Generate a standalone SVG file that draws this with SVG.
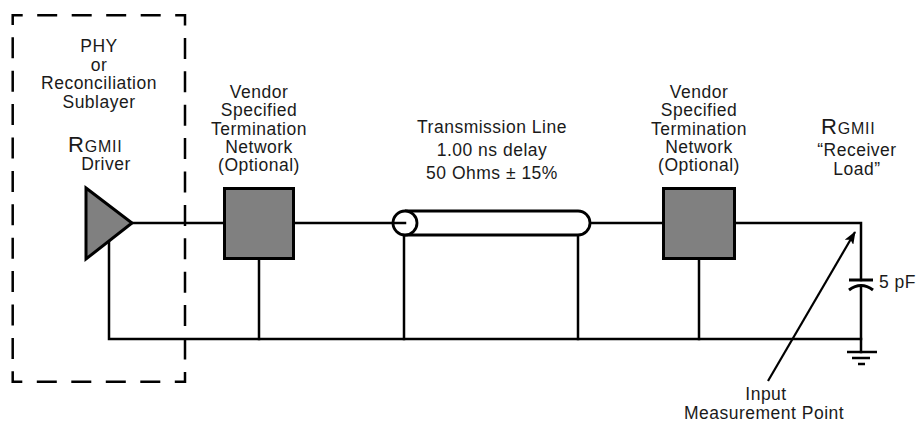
<svg xmlns="http://www.w3.org/2000/svg" width="917" height="422" viewBox="0 0 917 422">
<defs>
<style>
text{font-family:"Liberation Sans",Arial,Helvetica,sans-serif;font-size:17.5px;fill:#1a1a1a;letter-spacing:0.5px}
.c{text-anchor:middle}
.w{fill:none;stroke:#000;stroke-width:2.5;stroke-linecap:square}
.blk{fill:#808080;stroke:#000;stroke-width:3}
</style>
<marker id="ah" viewBox="0 0 13 10" refX="12" refY="5" markerWidth="13" markerHeight="10" markerUnits="userSpaceOnUse" orient="auto">
<path d="M0,0 L13,5 L0,10 L3,5 Z" fill="#000"/>
</marker>
</defs>
<rect width="917" height="422" fill="#fff"/>

<g id="boundary">
<path d="M12.7,15.3 H185 V381.7 H12.7 Z" fill="none" stroke="#000" stroke-width="2.5" stroke-dasharray="10 14.5 20 14.5 20 14.5 20 14.5 20 14.5 20 12.4 21 12.4 21 12.4 21 12.4 21 12.4 21 12.4 21 12.4 21 12.4 21 12.4 21 12.4 21 12.4 20 14.5 20 14.5 20 14.5 20 14.5 20 14.5 20 12.4 21 12.4 21 12.4 21 12.4 21 12.4 21 12.4 21 12.4 21 12.4 21 12.4 21 12.4 21 12.4 10"/>
<text class="c" x="99" y="52">PHY</text>
<text class="c" x="99" y="70.5">or</text>
<text class="c" x="99" y="89">Reconciliation</text>
<text class="c" x="99" y="107.5">Sublayer</text>
</g>

<g id="connectors">
<path class="w" d="M132,223 H224"/>
<path class="w" d="M293,223 H405"/>
<path class="w" d="M590,223 H663"/>
<path class="w" d="M735,223 H861 V280"/>
<path class="w" d="M861,286 V352"/>
<path class="w" d="M109,241 V339 H861"/>
<path class="w" d="M259,259 V339"/>
<path class="w" d="M699,259 V339"/>
<path class="w" d="M404,235 V339"/>
<path class="w" d="M578,235 V339"/>
<line x1="768" y1="381" x2="855" y2="232" stroke="#000" stroke-width="2.2" marker-end="url(#ah)"/>
</g>

<g id="driver">
<path class="blk" d="M86,188 L132,223 L86,259 Z"/>
<text x="68" y="152" style="letter-spacing:0.8px"><tspan style="font-size:22px">R</tspan><tspan style="font-size:16px">GMII</tspan></text>
<text class="c" x="106" y="170">Driver</text>
</g>

<g id="termination1">
<rect class="blk" x="224.5" y="188.5" width="69" height="70"/>
<text class="c" x="259" y="98">Vendor</text>
<text class="c" x="259" y="116.3">Specified</text>
<text class="c" x="259" y="134.6">Termination</text>
<text class="c" x="259" y="152.9">Network</text>
<text class="c" x="259" y="171.2">(Optional)</text>
</g>

<g id="transmission-line">
<path d="M405,211 H578 A12,12 0 0 1 578,235 H405" fill="#fff" stroke="#000" stroke-width="2.8"/>
<circle cx="405" cy="223" r="12" fill="#fff" stroke="#000" stroke-width="2.8"/>
<path class="w" d="M393,223 H405"/>
<text class="c" x="492" y="133">Transmission Line</text>
<text class="c" x="492" y="156">1.00 ns delay</text>
<text class="c" x="492" y="179">50 Ohms ± 15%</text>
</g>

<g id="termination2">
<rect class="blk" x="663.5" y="188.5" width="71" height="70"/>
<text class="c" x="699" y="98">Vendor</text>
<text class="c" x="699" y="116.3">Specified</text>
<text class="c" x="699" y="134.6">Termination</text>
<text class="c" x="699" y="152.9">Network</text>
<text class="c" x="699" y="171.2">(Optional)</text>
</g>

<g id="receiver-load">
<text x="821" y="134" style="letter-spacing:0.8px"><tspan style="font-size:22px">R</tspan><tspan style="font-size:16px">GMII</tspan></text>
<text class="c" x="857" y="155.5">“Receiver</text>
<text class="c" x="857" y="175">Load”</text>
</g>

<g id="capacitor">
<line x1="849" y1="280" x2="873" y2="280" stroke="#000" stroke-width="3"/>
<path d="M849,290 Q861,281 873,290" fill="none" stroke="#000" stroke-width="3"/>
<text x="879" y="288">5 pF</text>
</g>

<g id="ground">
<line x1="847" y1="352" x2="877" y2="352" stroke="#000" stroke-width="2.5"/>
<line x1="852" y1="358" x2="870" y2="358" stroke="#000" stroke-width="2.5"/>
<line x1="858" y1="364" x2="865" y2="364" stroke="#000" stroke-width="2.5"/>
</g>

<g id="measurement-point">
<text class="c" x="766" y="399.5">Input</text>
<text class="c" x="764" y="418.5">Measurement Point</text>
</g>
</svg>
